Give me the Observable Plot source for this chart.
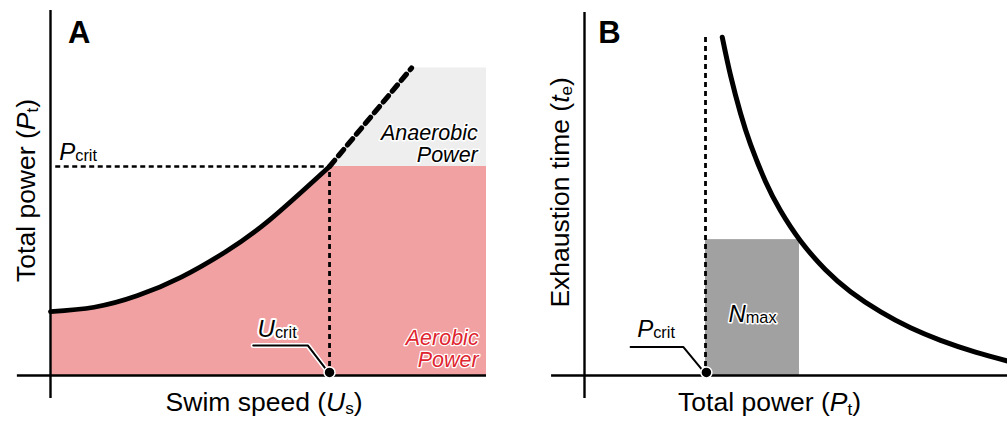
<!DOCTYPE html>
<html>
<head>
<meta charset="utf-8">
<script src="https://cdn.jsdelivr.net/npm/d3@7"></script>
<script src="https://cdn.jsdelivr.net/npm/@observablehq/plot@0.6"></script>
<style>
  html, body { margin: 0; padding: 0; background: #fff; }
  #wrap { display: flex; width: 1007px; height: 421px; }
  #wrap svg { display: block; }
</style>
</head>
<body>
<div id="wrap"></div>
<script>
// ---------- Panel A: total power vs swim speed ----------
const U_CRIT = 6.4;          // critical swim speed
const P_CRIT = 6.8;          // critical (aerobic) power
const U_END = 10;            // right end of the shaded regions
const P_TOP = 10;            // top of the anaerobic region

// aerobic power curve up to U_crit
const speedU = [0, 1, 2, 3, 4, 5, 6.4];
const speedP = [2.08, 2.22, 2.60, 3.20, 4.01, 5.03, 6.80];

// anaerobic extension beyond U_crit
const anaerobicU = [6.4, 8.28];
const anaerobicP = [6.8, 10];

// ---------- Panel B: exhaustion time vs total power ----------
const powerP = [7.74, 8.21, 8.77, 9.33, 10.17, 11.01, 12.14, 13.54, 14.95, 16.65, 18.32, 20.01, 21.97, 23.77];
const timeT  = [10.01, 8.87, 7.75, 6.84, 5.74, 4.88, 3.98, 3.13, 2.48, 1.88, 1.41, 1.04, 0.69, 0.43];
const NMAX_P = 12.08;        // power at the corner of the N_max box
const NMAX_T = 4.02;         // exhaustion time at that power

// text
const labelA = "A";
const labelB = "B";
const titleAX = "Swim speed (<i>U</i><sub>s</sub>)";
const titleAY = "Total power (<i>P</i><sub>t</sub>)";
const titleBX = "Total power (<i>P</i><sub>t</sub>)";
const titleBY = "Exhaustion time (<i>t</i><sub>e</sub>)";
const pcritLabel = "<i>P</i><lab>crit</lab>";
const ucritLabel = "<i>U</i><lab>crit</lab>";
const nmaxLabel = "<i>N</i><lab>max</lab>";
const anaerobicLabel = "Anaerobic\nPower";
const aerobicLabel = "Aerobic\nPower";

const FONT = "'Liberation Sans', Arial, Helvetica, sans-serif";
const PINK = "#f1a1a2";
const LIGHT = "#eeeeee";
const GREY = "#a1a1a1";
const RED = "#e02531";
const INK = "#000";

const curveA = speedU.map((u, i) => ({u, p: speedP[i]}));
const dashA = anaerobicU.map((u, i) => ({u, p: anaerobicP[i]}));
const anaerobicRegion = [
  {u: anaerobicU[0], p: anaerobicP[0]},
  {u: anaerobicU[1], p: anaerobicP[1]},
  {u: U_END, p: P_TOP}
];
const curveB = powerP.map((p, i) => ({p, t: timeT[i]}));

// Turn the small markup (<i>, <sub>, <lab>) inside text marks into tspans.
function enrich(svg) {
  const styles = {sub: {size: 0.65, shift: 0.12}, lab: {size: 0.68, shift: 0.03}};
  svg.querySelectorAll("text").forEach(t => {
    const src = t.textContent;
    if (!src.includes("<")) return;
    while (t.firstChild) t.removeChild(t.firstChild);
    const re = /<(i|sub|lab)>(.*?)<\/\1>|([^<]+)/g;
    let m, pending = 0;
    while ((m = re.exec(src))) {
      const ts = document.createElementNS("http://www.w3.org/2000/svg", "tspan");
      if (m[3] !== undefined) {
        ts.textContent = m[3];
      } else {
        ts.textContent = m[2];
        if (m[1] === "i") ts.setAttribute("font-style", "italic");
        else {
          const s = styles[m[1]];
          ts.setAttribute("font-size", s.size + "em");
          ts.setAttribute("dy", (s.shift / s.size).toFixed(3) + "em");
          pending = s.shift;
          t.appendChild(ts);
          continue;
        }
      }
      if (pending) { ts.setAttribute("dy", (-pending) + "em"); pending = 0; }
      t.appendChild(ts);
    }
  });
  return svg;
}

const halo = {stroke: "white", strokeWidth: 4, paintOrder: "stroke", strokeLinejoin: "round"};

// ---------- draw panel A ----------
const plotA = Plot.plot({
  width: 503,
  height: 421,
  x: {domain: [0, 10], range: [50, 486], axis: null},
  y: {domain: [0, 10], range: [375, 67.6], axis: null},
  style: {fontFamily: FONT, background: "white", overflow: "visible"},
  marks: [
    Plot.areaY(curveA, {x: "u", y: "p", fill: PINK, curve: "natural"}),
    Plot.rect([0], {x1: U_CRIT - 0.02, x2: U_END, y1: 0, y2: P_CRIT, fill: PINK}),
    Plot.areaY(anaerobicRegion, {x: "u", y1: P_CRIT, y2: "p", fill: LIGHT}),
    Plot.ruleY([P_CRIT], {x1: 0.12, x2: U_CRIT, stroke: INK, strokeWidth: 2.5, strokeDasharray: "5,3.5"}),
    Plot.ruleX([U_CRIT], {y1: 0, y2: P_CRIT, stroke: INK, strokeWidth: 2.8, strokeDasharray: "5,4"}),
    Plot.line(curveA, {x: "u", y: "p", stroke: INK, strokeWidth: 4.8, curve: "natural"}),
    Plot.line(dashA, {x: "u", y: "p", stroke: INK, strokeWidth: 5.2, strokeDasharray: "8,6"}),
    Plot.ruleX([0], {y1: -0.75, y2: 11.87, stroke: INK, strokeWidth: 2.4}),
    Plot.ruleY([0], {x1: -0.76, x2: U_END, stroke: INK, strokeWidth: 2.4}),
    // U_crit leader and marker
    Plot.line([{u: 4.65, p: 0.98}, {u: 5.9, p: 0.98}, {u: U_CRIT, p: 0.05}],
      {x: "u", y: "p", stroke: "white", strokeWidth: 5}),
    Plot.line([{u: 4.65, p: 0.98}, {u: 5.9, p: 0.98}, {u: U_CRIT, p: 0.05}],
      {x: "u", y: "p", stroke: INK, strokeWidth: 2}),
    Plot.dot([{u: U_CRIT, p: 0.1}], {x: "u", y: "p", r: 5.5, fill: INK, stroke: "white", strokeWidth: 1.5}),
    // labels
    Plot.text([labelA], {x: 0.66, y: 10.83, text: d => d, fontSize: 31, fontWeight: "bold", fill: INK, lineAnchor: "bottom", ...halo}),
    Plot.text([pcritLabel], {x: 0.2, y: 7.0, text: d => d, fontSize: 24, textAnchor: "start", lineAnchor: "bottom", fill: INK, ...halo}),
    Plot.text([ucritLabel], {x: 4.75, y: 1.24, text: d => d, fontSize: 24, textAnchor: "start", lineAnchor: "bottom", fill: INK, ...halo}),
    Plot.text([anaerobicLabel], {x: 9.8, y: 6.94, text: d => d, fontSize: 21.5, fontStyle: "italic", textAnchor: "end", lineAnchor: "bottom", lineHeight: 1.02, fill: INK, ...halo, strokeWidth: 3}),
    Plot.text([aerobicLabel], {x: 9.82, y: 0.27, text: d => d, fontSize: 21.5, fontStyle: "italic", textAnchor: "end", lineAnchor: "bottom", lineHeight: 1.02, fill: RED, ...halo, strokeWidth: 2.5}),
    Plot.text([titleAX], {x: 4.9, y: -1.16, text: d => d, fontSize: 26.5, textAnchor: "middle", lineAnchor: "bottom", fill: INK}),
    Plot.text([titleAY], {x: -0.56, y: 6.02, text: d => d, fontSize: 26.5, rotate: -90, textAnchor: "middle", lineAnchor: "middle", fill: INK})
  ]
});

// ---------- draw panel B ----------
const plotB = Plot.plot({
  width: 504,
  height: 421,
  x: {domain: [0, 23.77], range: [81, 504], axis: null},
  y: {domain: [0, 10], range: [375, 37], axis: null},
  style: {fontFamily: FONT, background: "white", overflow: "visible"},
  marks: [
    Plot.rect([0], {x1: P_CRIT, x2: NMAX_P, y1: 0, y2: NMAX_T, fill: GREY}),
    Plot.ruleX([P_CRIT], {y1: 0, y2: 10, stroke: INK, strokeWidth: 2.8, strokeDasharray: "5,4"}),
    Plot.line(curveB, {x: "p", y: "t", stroke: INK, strokeWidth: 5, curve: "natural"}),
    Plot.ruleX([0], {y1: -0.68, y2: 10.74, stroke: INK, strokeWidth: 2.4}),
    Plot.ruleY([0], {x1: -1.85, x2: 23.77, stroke: INK, strokeWidth: 2.4}),
    // P_crit leader and marker
    Plot.line([{p: 2.59, t: 0.84}, {p: 5.56, t: 0.84}, {p: P_CRIT, t: 0.05}],
      {x: "p", y: "t", stroke: "white", strokeWidth: 5}),
    Plot.line([{p: 2.59, t: 0.84}, {p: 5.56, t: 0.84}, {p: P_CRIT, t: 0.05}],
      {x: "p", y: "t", stroke: INK, strokeWidth: 2}),
    Plot.dot([{p: P_CRIT + 0.05, t: 0.09}], {x: "p", y: "t", r: 5.5, fill: INK, stroke: "white", strokeWidth: 1.5}),
    // labels
    Plot.text([labelB], {x: 1.4, y: 9.85, text: d => d, fontSize: 31, fontWeight: "bold", fill: INK, lineAnchor: "bottom", ...halo}),
    Plot.text([pcritLabel], {x: 2.96, y: 1.13, text: d => d, fontSize: 24, textAnchor: "start", lineAnchor: "bottom", fill: INK, ...halo}),
    Plot.text([nmaxLabel], {x: (P_CRIT + NMAX_P) / 2, y: 1.58, text: d => d, fontSize: 24, textAnchor: "middle", lineAnchor: "bottom", fill: INK, ...halo, strokeWidth: 3}),
    Plot.text([titleBX], {x: 10.4, y: -1.06, text: d => d, fontSize: 26.5, textAnchor: "middle", lineAnchor: "bottom", fill: INK}),
    Plot.text([titleBY], {x: -1.35, y: 5.42, text: d => d, fontSize: 26.5, rotate: -90, textAnchor: "middle", lineAnchor: "middle", fill: INK})
  ]
});

const wrap = document.getElementById("wrap");
wrap.appendChild(enrich(plotA));
wrap.appendChild(enrich(plotB));
</script>
</body>
</html>
